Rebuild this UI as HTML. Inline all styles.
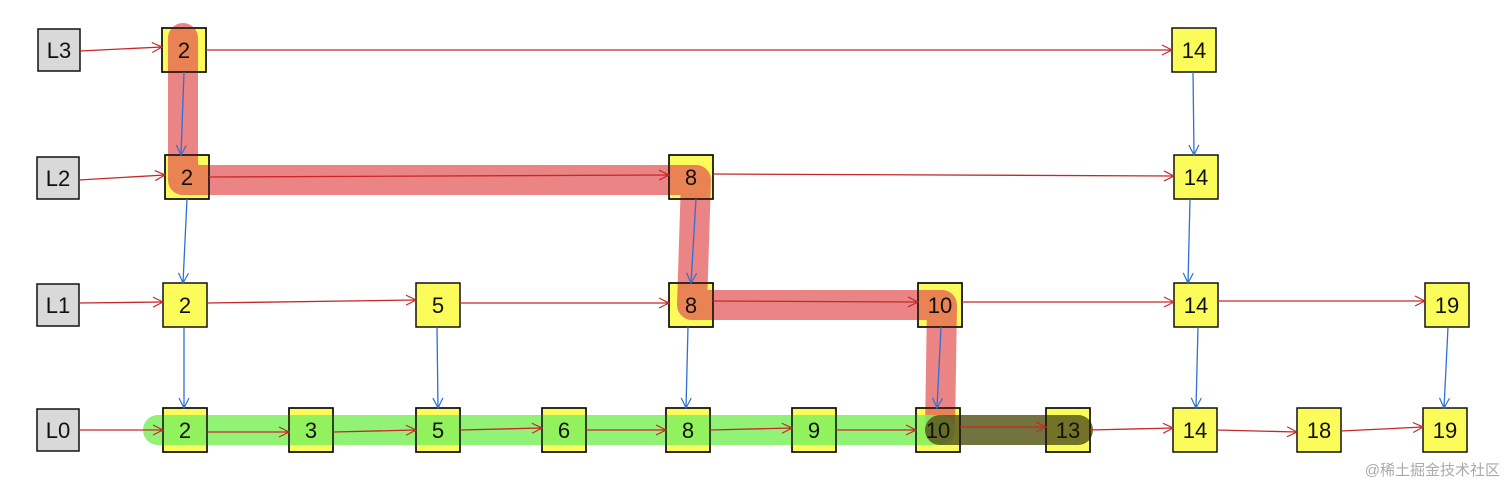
<!DOCTYPE html>
<html><head><meta charset="utf-8"><style>
html,body{margin:0;padding:0;background:#fff;width:1512px;height:496px;overflow:hidden}
svg text{font-family:"Liberation Sans",sans-serif}
</style></head><body>
<svg width="1512" height="496" viewBox="0 0 1512 496" xmlns="http://www.w3.org/2000/svg">
<defs>
<marker id="ar" markerWidth="12" markerHeight="12" refX="11" refY="6" orient="auto" markerUnits="userSpaceOnUse"><path d="M1,1 L11,6 L1,11" fill="none" stroke="#c62828" stroke-width="1.2"/></marker>
<marker id="ab" markerWidth="12" markerHeight="12" refX="11" refY="6" orient="auto" markerUnits="userSpaceOnUse"><path d="M1,1 L11,6 L1,11" fill="none" stroke="#2f6fd6" stroke-width="1.2"/></marker>
</defs>
<g fill="#fbfb5a" stroke="#111" stroke-width="1.5">
<rect x="162" y="28" width="44" height="44"/>
<rect x="1172" y="28" width="44" height="44"/>
<rect x="165" y="155" width="44" height="44"/>
<rect x="669" y="155" width="44" height="44"/>
<rect x="1174" y="155" width="44" height="44"/>
<rect x="163" y="283" width="44" height="44"/>
<rect x="416" y="283" width="44" height="44"/>
<rect x="669" y="283" width="44" height="44"/>
<rect x="918" y="283" width="44" height="44"/>
<rect x="1174" y="283" width="44" height="44"/>
<rect x="1425" y="283" width="44" height="44"/>
<rect x="163" y="408" width="44" height="44"/>
<rect x="289" y="408" width="44" height="44"/>
<rect x="416" y="408" width="44" height="44"/>
<rect x="542" y="408" width="44" height="44"/>
<rect x="666" y="408" width="44" height="44"/>
<rect x="792" y="408" width="44" height="44"/>
<rect x="916" y="408" width="44" height="44"/>
<rect x="1046" y="408" width="44" height="44"/>
<rect x="1173" y="408" width="44" height="44"/>
<rect x="1297" y="408" width="44" height="44"/>
<rect x="1423" y="408" width="44" height="44"/>
</g>
<path d="M183,38 L183,180 L696,180 L692,305 L942,305 L940,430" fill="none" stroke="#e35050" stroke-opacity="0.7" stroke-width="30" stroke-linecap="round" stroke-linejoin="round"/>
<path d="M158,430 L940,430" stroke="#7ef05e" stroke-opacity="0.85" stroke-width="30" stroke-linecap="round"/>
<path d="M940,430 L1078,430" stroke="#5a5a1e" stroke-opacity="0.85" stroke-width="30" stroke-linecap="round"/>
<g fill="none" stroke="#111" stroke-width="1.5">
<rect x="162" y="28" width="44" height="44"/><rect x="165" y="155" width="44" height="44"/>
<rect x="669" y="155" width="44" height="44"/><rect x="669" y="283" width="44" height="44"/>
<rect x="918" y="283" width="44" height="44"/><rect x="916" y="408" width="44" height="44"/>
<rect x="1046" y="408" width="44" height="44"/>
<rect x="163" y="408" width="44" height="44"/><rect x="289" y="408" width="44" height="44"/>
<rect x="416" y="408" width="44" height="44"/><rect x="542" y="408" width="44" height="44"/>
<rect x="666" y="408" width="44" height="44"/><rect x="792" y="408" width="44" height="44"/>
</g>
<g fill="#d9d9d9" stroke="#111" stroke-width="1.5">
<rect x="38" y="29" width="42" height="42"/>
<rect x="37" y="157" width="42" height="42"/>
<rect x="37" y="284" width="42" height="42"/>
<rect x="37" y="409" width="42" height="42"/>
</g>
<g stroke="#c62828" stroke-width="1.3" fill="none" marker-end="url(#ar)">
<line x1="80" y1="51" x2="162" y2="47"/>
<line x1="206" y1="50" x2="1172" y2="50"/>
<line x1="79" y1="180" x2="165" y2="175"/>
<line x1="209" y1="177" x2="669" y2="175"/>
<line x1="713" y1="174" x2="1174" y2="176"/>
<line x1="79" y1="303" x2="163" y2="302"/>
<line x1="207" y1="303" x2="416" y2="300"/>
<line x1="460" y1="303" x2="669" y2="303"/>
<line x1="713" y1="301" x2="918" y2="302"/>
<line x1="962" y1="302" x2="1174" y2="302"/>
<line x1="1218" y1="301" x2="1425" y2="301"/>
<line x1="79" y1="430" x2="163" y2="430"/>
<line x1="207" y1="432" x2="289" y2="432"/>
<line x1="333" y1="432" x2="416" y2="430"/>
<line x1="460" y1="430" x2="542" y2="428"/>
<line x1="586" y1="430" x2="666" y2="430"/>
<line x1="710" y1="430" x2="792" y2="428"/>
<line x1="836" y1="430" x2="916" y2="430"/>
<line x1="960" y1="427" x2="1046" y2="427"/>
<line x1="1090" y1="430" x2="1173" y2="428"/>
<line x1="1217" y1="430" x2="1297" y2="432"/>
<line x1="1341" y1="431" x2="1423" y2="427"/>
</g>
<g stroke="#2f6fd6" stroke-width="1.3" fill="none" marker-end="url(#ab)">
<line x1="184" y1="72" x2="181" y2="155"/>
<line x1="187" y1="199" x2="183" y2="283"/>
<line x1="184" y1="327" x2="184" y2="408"/>
<line x1="437" y1="327" x2="438" y2="408"/>
<line x1="696" y1="199" x2="691" y2="283"/>
<line x1="688" y1="327" x2="686" y2="408"/>
<line x1="941" y1="327" x2="937" y2="408"/>
<line x1="1193" y1="72" x2="1194" y2="155"/>
<line x1="1190" y1="199" x2="1188" y2="283"/>
<line x1="1198" y1="327" x2="1196" y2="408"/>
<line x1="1448" y1="327" x2="1444" y2="408"/>
</g>
<g font-size="22" text-anchor="middle" fill="#111">
<text x="59" y="58">L3</text><text x="58" y="186">L2</text><text x="58" y="313">L1</text><text x="58" y="438">L0</text>
<text x="184" y="58">2</text><text x="1194" y="58">14</text>
<text x="187" y="185">2</text><text x="691" y="185">8</text><text x="1196" y="185">14</text>
<text x="185" y="313">2</text><text x="438" y="313">5</text><text x="691" y="313">8</text><text x="940" y="313">10</text><text x="1196" y="313">14</text><text x="1447" y="313">19</text>
<text x="185" y="438">2</text><text x="311" y="438">3</text><text x="438" y="438">5</text><text x="564" y="438">6</text><text x="688" y="438">8</text><text x="814" y="438">9</text><text x="938" y="438">10</text><text x="1068" y="438">13</text><text x="1195" y="438">14</text><text x="1319" y="438">18</text><text x="1445" y="438">19</text>
</g>
<text x="1500" y="475" font-size="15" text-anchor="end" fill="#aaa" font-family="'Liberation Sans','Noto Sans CJK SC',sans-serif">@稀土掘金技术社区</text>
</svg>
</body></html>
